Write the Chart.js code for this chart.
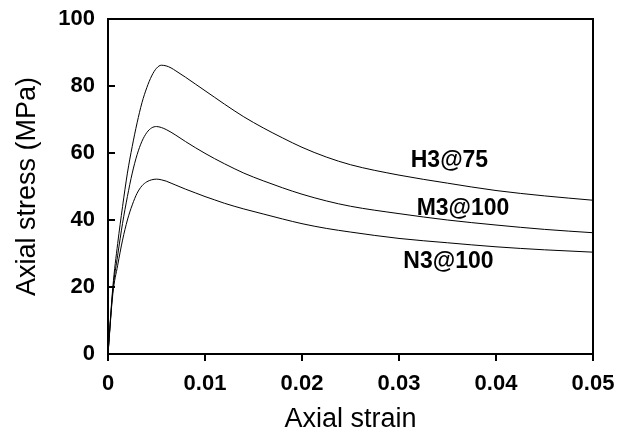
<!DOCTYPE html>
<html>
<head>
<meta charset="utf-8">
<script src="https://cdn.jsdelivr.net/npm/chart.js@4.4.1/dist/chart.umd.min.js"></script>
<style>
    html, body { margin: 0; padding: 0; background: #fff; }
    #wrap { width: 617px; height: 438px; }
</style>
</head>
<body>
<div id="wrap"><canvas id="stress-strain-chart"></canvas></div>
<script>
// strain samples shared by the three curves
const strain = [0, 0.0005, 0.001, 0.0015, 0.002, 0.0025, 0.003, 0.0035, 0.004, 0.0045, 0.005, 0.0055,
    0.006, 0.0065, 0.007, 0.008, 0.009, 0.01, 0.011, 0.012, 0.014, 0.016, 0.018, 0.02, 0.0225, 0.025,
    0.03, 0.035, 0.04, 0.045, 0.05];

const stressH3 = [0, 20, 33, 44, 54, 62, 69, 75, 79.5, 83, 85.3, 86.2,
    86.0, 85.4, 84.5, 82.6, 80.6, 78.6, 76.6, 74.6, 70.8, 67.5, 64.5, 61.7, 58.8, 56.5,
    53.4, 51.0, 48.8, 47.2, 45.9];
const stressM3 = [0, 19, 29.5, 39, 47, 54, 59.5, 63.5, 66.1, 67.5, 67.9, 67.6,
    67.0, 66.2, 65.3, 63.4, 61.6, 59.9, 58.3, 56.8, 54.0, 51.7, 49.6, 47.7, 45.7, 44.1,
    41.9, 40.0, 38.5, 37.2, 36.2];
const stressN3 = [0, 18, 26.5, 34, 40, 44.5, 48, 50.2, 51.4, 52.0, 52.2, 52.0,
    51.6, 51.0, 50.4, 49.2, 48.1, 47.0, 46.0, 45.0, 43.3, 41.8, 40.3, 38.9, 37.5, 36.4,
    34.5, 33.2, 32.0, 31.1, 30.4];

// curve labels, placed in data units
const labelText = ['H3@75', 'M3@100', 'N3@100'];
const labelX = [0.0352, 0.0366, 0.0351];
const labelY = [57.8, 43.3, 27.7];

const FONT = 'Arial, "Liberation Sans", sans-serif';

function toPoints(values) {
    return strain.map(function(s, i) { return {x: s, y: values[i]}; });
}

function curve(values) {
    return {
        data: toPoints(values),
        borderColor: '#000',
        borderWidth: 1,
        pointRadius: 0,
        fill: false,
        cubicInterpolationMode: 'monotone'
    };
}

// frame, inward y ticks and curve labels
const framePlugin = {
    id: 'frame',
    afterDraw(chart) {
        const c = chart.ctx;
        const a = chart.chartArea;
        const ys = chart.scales.y;
        const xs = chart.scales.x;
        c.save();
        c.strokeStyle = '#000';
        c.lineWidth = 2;
        c.strokeRect(a.left, a.top, a.right - a.left, a.bottom - a.top);
        c.beginPath();
        ys.ticks.forEach(function(t) {
            const py = Math.round(ys.getPixelForValue(t.value));
            c.moveTo(a.left, py);
            c.lineTo(a.left + 7, py);
        });
        c.stroke();
        c.fillStyle = '#000';
        c.font = 'bold 23px ' + FONT;
        c.textAlign = 'center';
        c.textBaseline = 'middle';
        labelText.forEach(function(txt, i) {
            c.fillText(txt, xs.getPixelForValue(labelX[i]), ys.getPixelForValue(labelY[i]));
        });
        c.restore();
    }
};

const ctx = document.getElementById('stress-strain-chart');

new Chart(ctx, {
    type: 'line',
    data: {
        datasets: [curve(stressH3), curve(stressM3), curve(stressN3)]
    },
    options: {
        responsive: true,
        maintainAspectRatio: false,
        animation: false,
        layout: {
            padding: {top: 19, right: 24, left: 0, bottom: 0}
        },
        plugins: {
            legend: {display: false},
            tooltip: {enabled: false}
        },
        scales: {
            x: {
                type: 'linear',
                min: 0,
                max: 0.05,
                afterFit: function(scale) {
                    scale.height = 84;
                    scale.paddingLeft = 0;
                    scale.paddingRight = 0;
                },
                ticks: {
                    stepSize: 0.01,
                    color: '#000',
                    padding: 10,
                    maxRotation: 0,
                    font: {family: FONT, size: 22, weight: 'bold'},
                    callback: function(v) { return v === 0 ? '0' : v.toFixed(2); }
                },
                grid: {
                    drawOnChartArea: false,
                    drawTicks: true,
                    tickLength: 7,
                    color: '#000',
                    lineWidth: 2
                },
                border: {display: false},
                title: {
                    display: true,
                    text: 'Axial strain',
                    color: '#000',
                    padding: {top: 0, bottom: 2},
                    font: {family: FONT, size: 27}
                }
            },
            y: {
                min: 0,
                max: 100,
                afterFit: function(scale) {
                    scale.width = 108;
                    scale.paddingTop = 0;
                    scale.paddingBottom = 0;
                },
                ticks: {
                    stepSize: 20,
                    color: '#000',
                    padding: 13,
                    font: {family: FONT, size: 22, weight: 'bold'}
                },
                grid: {
                    drawOnChartArea: false,
                    drawTicks: false
                },
                border: {display: false},
                title: {
                    display: true,
                    text: 'Axial stress (MPa)',
                    color: '#000',
                    padding: {top: 11, bottom: 0},
                    font: {family: FONT, size: 27}
                }
            }
        }
    },
    plugins: [framePlugin]
});
</script>
</body>
</html>
